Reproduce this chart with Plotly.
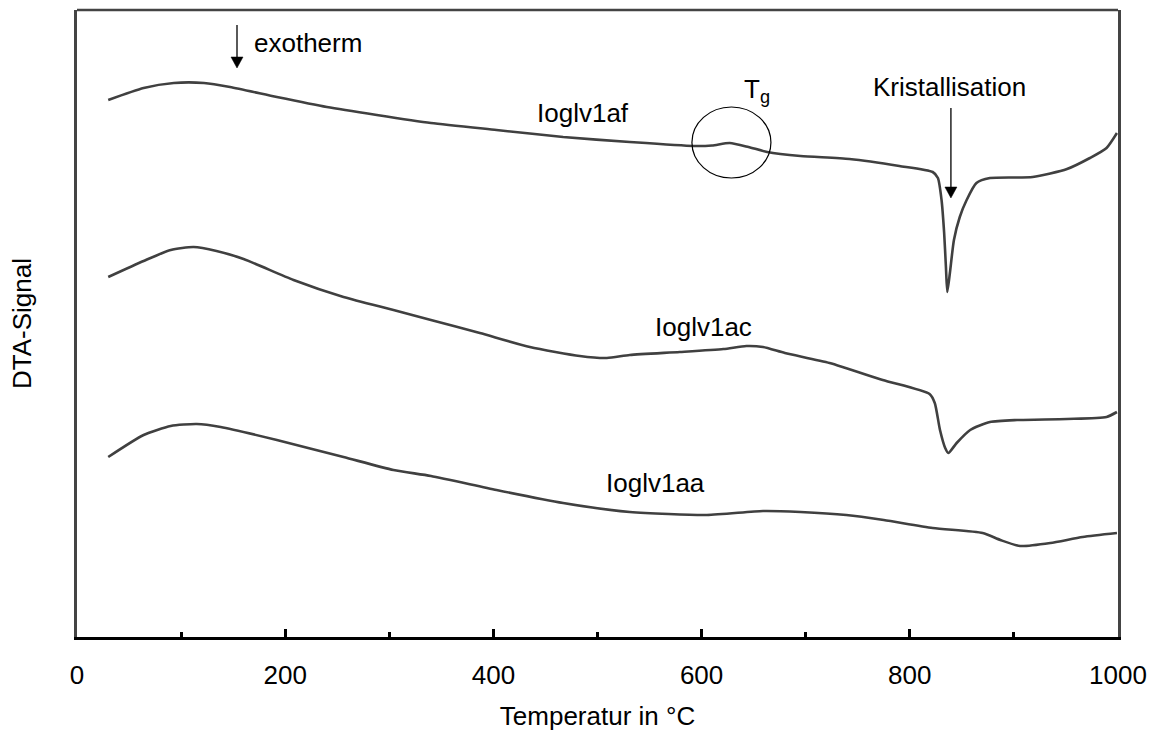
import plotly.graph_objects as go

# DTA curves of three glass samples (signal in arbitrary units, offset per sample)
temp_af = [30, 64, 93, 122, 147, 192, 240, 288, 340, 403, 467, 531, 592, 610, 627, 645, 663, 695,
           742, 790, 822, 827, 830.5, 833, 834.7, 836, 838.5, 842.4, 848, 854.6, 864, 877, 918,
           951, 973, 989, 999]
signal_af = [537, 549, 554, 554, 550, 540, 530, 522, 514, 507, 500, 495, 491, 491.5, 494, 490, 485, 481,
             478, 471, 465, 459, 437, 404, 370, 345, 364, 397, 420, 437, 454, 459, 460,
             468, 479, 489, 504]

temp_ac = [30, 64, 90, 112, 134, 160, 208, 256, 304, 340, 387, 435, 483, 509, 531, 579, 621, 643,
           659, 680, 723, 774, 819, 824, 829, 834, 837, 845, 858, 877, 903, 951, 989, 999]
signal_ac = [360, 376, 387, 390, 386, 378, 357, 340, 327, 317, 304, 290, 281, 279, 282, 285, 288, 291,
             290, 284, 274, 257, 243, 234, 207, 189, 184, 194, 207, 215, 217, 218, 220, 225]

temp_aa = [30, 64, 90, 115, 138, 192, 256, 304, 340, 403, 467, 531, 605, 659, 695, 739, 775, 822,
           870, 887, 906, 935, 966, 999]
signal_aa = [180, 202, 211, 213, 210, 197, 180, 167, 161, 147, 134, 125, 122, 126, 125, 122, 117, 109,
             104, 97, 91, 94, 100, 104]

x_ticks = [0, 200, 400, 600, 800, 1000]

FONT = "Arial, Liberation Sans, sans-serif"
LINE = "#404040"
PX_PER_DEG = 1041 / 1000  # plot width in px over the temperature span

fig = go.Figure()
for t, s, name in [(temp_af, signal_af, "Ioglv1af"),
                   (temp_ac, signal_ac, "Ioglv1ac"),
                   (temp_aa, signal_aa, "Ioglv1aa")]:
    fig.add_trace(go.Scatter(x=t, y=s, mode="lines", name=name,
                             line=dict(color=LINE, width=2.6, shape="spline", smoothing=0.6),
                             showlegend=False, hoverinfo="skip"))

# Glass transition marker
fig.add_shape(type="circle", xref="x", yref="y", x0=590.7, x1=666.6, y0=459, y1=530,
              line=dict(color="black", width=1.2))

# frame top edge
fig.add_shape(type="line", xref="paper", yref="paper", x0=0, x1=1, y0=1, y1=1,
              line=dict(color="#444444", width=2.5))

def label(x, y, text, xanchor="center"):
    fig.add_annotation(x=x, y=y, xref="x", yref="y", text=text, showarrow=False,
                       xanchor=xanchor, yanchor="middle",
                       font=dict(family=FONT, size=26, color="black"))

label(486, 524, "Ioglv1af")
label(602, 310, "Ioglv1ac")
label(556, 154, "Ioglv1aa")
label(168, 594, "exotherm", xanchor="left")
label(838.5, 550, "Kristallisation")
label(638.8, 547, "T<sub>g</sub>", xanchor="left")

# downward arrows: shaft plus filled head
def arrow(x, y_tip, y_tail, head_h=11, head_w=12):
    fig.add_shape(type="line", xref="x", yref="y", x0=x, x1=x, y0=y_tail, y1=y_tip + head_h - 1,
                  line=dict(color="black", width=1.3))
    hw = head_w / 2 / PX_PER_DEG
    fig.add_shape(type="path", xref="x", yref="y",
                  path=f"M {x - hw},{y_tip + head_h} L {x + hw},{y_tip + head_h} L {x},{y_tip} Z",
                  fillcolor="black", line=dict(color="black", width=0.5))

arrow(153.7, 569, 612)
arrow(839.5, 439, 529)

fig.update_layout(
    width=1154, height=731,
    margin=dict(l=77, r=36, t=10, b=94),
    plot_bgcolor="white", paper_bgcolor="white",
    font=dict(family=FONT, size=26, color="black"),
    xaxis=dict(range=[0, 1000], tickvals=x_ticks, ticktext=[str(v) for v in x_ticks],
               ticks="inside", ticklen=8, tickwidth=3, tickcolor="black",
               minor=dict(dtick=100, ticks="inside", ticklen=5, tickwidth=2.5, tickcolor="black"),
               showline=True, linecolor="black", linewidth=3, showgrid=False, zeroline=False,
               ticklabelstandoff=13, automargin=False,
               tickfont=dict(family=FONT, size=26, color="black"),
               title=dict(text="Temperatur in °C", font=dict(family=FONT, size=26, color="black"),
                          standoff=24)),
    yaxis=dict(range=[0, 627], showticklabels=False, ticks="", showgrid=False, zeroline=False,
               showline=True, mirror=True, linecolor="#444444", linewidth=2.5, automargin=False,
               title=dict(text="DTA-Signal", font=dict(family=FONT, size=26, color="black"),
                          standoff=36)),
)

fig.write_html("out.html")
